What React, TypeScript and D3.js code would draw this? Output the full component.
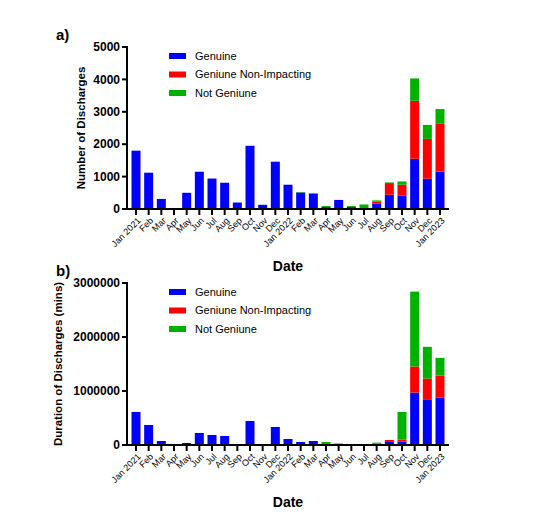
import * as d3 from 'd3';
import * as React from 'react';

const months = [
  'Jan 2021', 'Feb', 'Mar', 'Apr', 'May', 'Jun', 'Jul', 'Aug', 'Sep', 'Oct', 'Nov', 'Dec',
  'Jan 2022', 'Feb', 'Mar', 'Apr', 'May', 'Jun', 'Jul', 'Aug', 'Sep', 'Oct', 'Nov', 'Dec',
  'Jan 2023',
];
const seriesNames = ['Genuine', 'Geniune Non-Impacting', 'Not Geniune'];
const seriesColors = ['#0000ff', '#ff0000', '#00b200'];

// panel a: number of discharges
const countGenuine = [1800, 1120, 310, 0, 500, 1150, 940, 810, 200, 1950, 130, 1460, 750, 510, 470, 60, 280, 60, 0, 170, 440, 420, 1550, 935, 1150];
const countNonImpacting = [0, 0, 0, 0, 0, 0, 0, 0, 0, 0, 0, 0, 0, 0, 0, 0, 0, 0, 0, 65, 360, 330, 1790, 1230, 1495];
const countNotGenuine = [0, 0, 0, 0, 0, 0, 0, 0, 0, 0, 0, 0, 0, 15, 20, 30, 0, 30, 140, 30, 20, 100, 690, 430, 440];
const countTicks = [0, 1000, 2000, 3000, 4000, 5000];

// panel b: duration of discharges (mins)
const durGenuine = [612000, 371000, 74000, 5000, 37000, 223000, 186000, 167000, 18000, 445000, 3000, 334000, 111000, 56000, 74000, 10000, 25000, 3000, 3000, 15000, 56000, 62000, 971000, 835000, 878000];
const durNonImpacting = [0, 0, 0, 0, 0, 0, 0, 0, 0, 0, 0, 0, 0, 0, 0, 0, 0, 0, 0, 15000, 37000, 37000, 483000, 396000, 409000];
const durNotGenuine = [0, 0, 0, 0, 0, 0, 0, 0, 0, 0, 0, 0, 0, 0, 0, 46000, 0, 0, 0, 13000, 0, 513000, 1386000, 587000, 327000];
const durTicks = [0, 1000000, 2000000, 3000000];

const font = 'Arial, "Liberation Sans", sans-serif';

type PanelProps = {
  top: number;
  letter: string;
  yLabel: string;
  yMax: number;
  ticks: number[];
  series: number[][];
  yLabelX: number;
};

const Panel = ({ top, letter, yLabel, yMax, ticks, series, yLabelX }: PanelProps) => {
  const axisX = 127;
  const axisEnd = 449;
  const plotH = 162;
  const y = d3.scaleLinear().domain([0, yMax]).range([top + plotH, top]);
  const x = d3.scalePoint<number>().domain(d3.range(months.length)).range([136, 440]);
  const barW = 9;

  const table = months.map((_, i) => {
    const row: Record<string, number> = {};
    seriesNames.forEach((s, k) => (row[s] = series[k][i]));
    return row;
  });
  const stacked = d3.stack<Record<string, number>>().keys(seriesNames)(table);
  const base = y(0);

  return (
    <g>
      <text x={56} y={top - 7} fontFamily={font} fontWeight="bold" fontSize={15}>
        {letter}
      </text>
      {stacked.map((layer, k) => (
        <g key={k} fill={seriesColors[k]}>
          {layer.map((d, i) =>
            d[1] > d[0] ? (
              <rect
                key={i}
                x={(x(i) ?? 0) - barW / 2}
                y={y(d[1])}
                width={barW}
                height={y(d[0]) - y(d[1])}
              />
            ) : null,
          )}
        </g>
      ))}
      {/* y axis */}
      <line x1={axisX} x2={axisX} y1={top - 1} y2={base + 1} stroke="#000" strokeWidth={2} />
      {ticks.map((t) => (
        <g key={t}>
          <line x1={axisX - 5} x2={axisX} y1={y(t)} y2={y(t)} stroke="#000" strokeWidth={2} />
          <text
            x={axisX - 7}
            y={y(t)}
            dy="0.35em"
            textAnchor="end"
            fontFamily={font}
            fontWeight="bold"
            fontSize={12}
          >
            {t}
          </text>
        </g>
      ))}
      {/* x axis */}
      <line x1={axisX - 1} x2={axisEnd} y1={base} y2={base} stroke="#000" strokeWidth={2} />
      {months.map((m, i) => {
        const px = x(i) ?? 0;
        return (
          <g key={i}>
            <line x1={px} x2={px} y1={base} y2={base + 6} stroke="#000" strokeWidth={2} />
            <text
              transform={`translate(${px + 3},${base + 10}) rotate(-45)`}
              textAnchor="end"
              dy="0.35em"
              fontFamily={font}
              fontSize={9}
            >
              {m}
            </text>
          </g>
        );
      })}
      <text
        x={288}
        y={base + 62}
        textAnchor="middle"
        fontFamily={font}
        fontWeight="bold"
        fontSize={14}
      >
        Date
      </text>
      <text
        transform={`translate(${yLabelX},${top + plotH / 2}) rotate(-90)`}
        textAnchor="middle"
        fontFamily={font}
        fontWeight="bold"
        fontSize={11.5}
      >
        {yLabel}
      </text>
      {/* legend */}
      {seriesNames.map((s, k) => (
        <g key={s} transform={`translate(169,${top + 9 + k * 18.5})`}>
          <rect x={0} y={-3} width={17} height={6} fill={seriesColors[k]} />
          <text x={26} y={0} dy="0.35em" fontFamily={font} fontSize={11}>
            {s}
          </text>
        </g>
      ))}
    </g>
  );
};

export default function App() {
  return (
    <svg
      width={542}
      height={522}
      style={{ position: 'absolute', left: 0, top: 0, background: '#fff' }}
    >
      <Panel
        top={47}
        letter="a)"
        yLabel="Number of Discharges"
        yMax={5000}
        ticks={countTicks}
        series={[countGenuine, countNonImpacting, countNotGenuine]}
        yLabelX={85}
      />
      <Panel
        top={283}
        letter="b)"
        yLabel="Duration of Discharges (mins)"
        yMax={3000000}
        ticks={durTicks}
        series={[durGenuine, durNonImpacting, durNotGenuine]}
        yLabelX={62}
      />
    </svg>
  );
}
